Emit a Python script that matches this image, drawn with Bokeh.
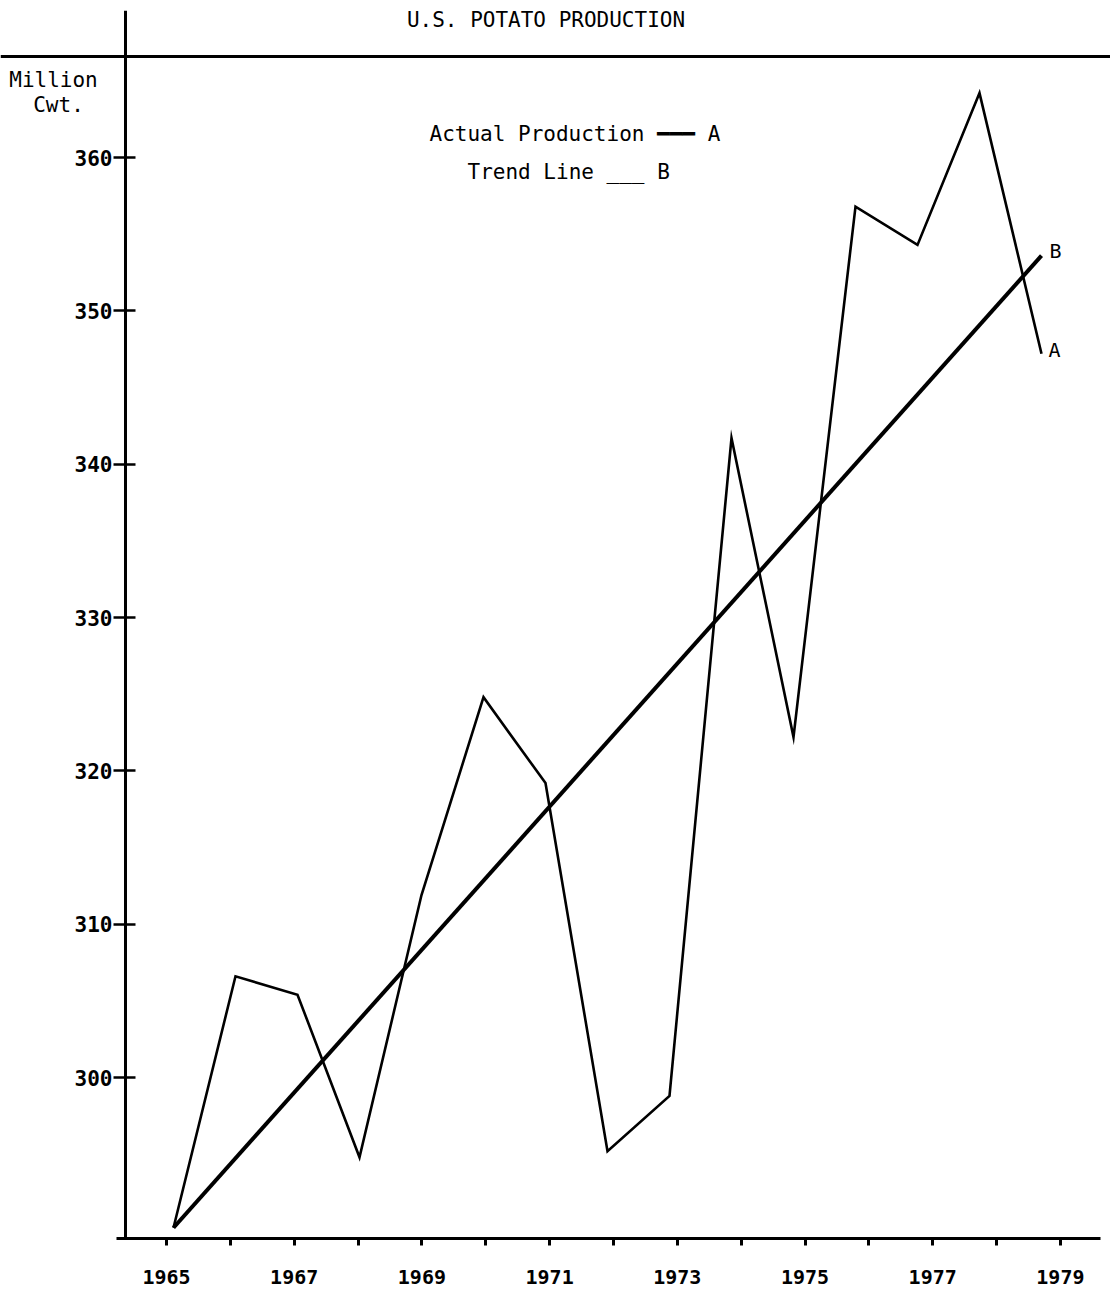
from bokeh.plotting import figure
from bokeh.models import LinearAxis, Range1d, FixedTicker, Span
from bokeh.core.properties import value
from bokeh.embed import file_html
from bokeh.resources import INLINE

# ---- data ----
years = [1965, 1966, 1967, 1968, 1969, 1970, 1971, 1972, 1973, 1974,
         1975, 1976, 1977, 1978, 1979]
actual = [290.2, 306.6, 305.4, 294.8, 311.9, 324.8, 319.2, 295.2, 298.8,
          341.7, 322.2, 356.8, 354.3, 364.2, 347.2]
trend_years = [1965, 1979]
trend = [290.2, 353.6]
y_ticks = [300, 310, 320, 330, 340, 350, 360]
x_label_years = [1965, 1967, 1969, 1971, 1973, 1975, 1977, 1979]
x_minor_years = [1966, 1968, 1970, 1972, 1974, 1976, 1978]

title_text = "U.S. POTATO PRODUCTION"
unit_lines = ["Million", "Cwt."]
legend_a = "Actual Production \u2501\u2501\u2501 A"
legend_b = "Trend Line ___ B"

FONT_NAME = "DejaVu Sans Mono"
FONT = value(FONT_NAME)

W, H = 1110, 1292
FRAME_TOP, FRAME_BOTTOM = 10, 1238

# page-pixel -> data helpers (layout only)
PX_PER_YEAR = 62.0
PX_PER_UNIT = 920.0 / 60.0


def X(sx):
    return 1965 + (sx - 173) / PX_PER_YEAR


def Y(sy):
    return 300 + (1077 - sy) / PX_PER_UNIT


AX_PX = 63.85
AX_X0 = 166


def XA(sx):
    return 1965 + (sx - AX_X0) / AX_PX


p = figure(width=W, height=H,
           x_range=Range1d(X(0), X(W)),
           y_range=Range1d(Y(FRAME_BOTTOM), Y(FRAME_TOP)),
           x_axis_type=None, y_axis_type=None,
           toolbar_location=None, output_backend="svg",
           min_border_left=0, min_border_right=0,
           min_border_top=FRAME_TOP, min_border_bottom=H - FRAME_BOTTOM)
p.outline_line_color = None
p.background_fill_color = "white"
p.border_fill_color = "white"

p.extra_x_ranges = {"ax": Range1d(XA(0), XA(W))}

xaxis = LinearAxis(x_range_name="ax",
                   ticker=FixedTicker(ticks=x_label_years, minor_ticks=x_minor_years),
                   bounds=(XA(116), XA(1100)),
                   axis_line_width=3, axis_line_color="black",
                   major_tick_in=0, major_tick_out=7, major_tick_line_width=3,
                   minor_tick_in=0, minor_tick_out=7, minor_tick_line_width=3,
                   major_label_text_font=FONT_NAME,
                   major_label_text_font_size="20px",
                   major_label_text_font_style="bold",
                   major_label_text_color="black",
                   major_label_standoff=24)
p.add_layout(xaxis, "below")

yaxis = LinearAxis(fixed_location=X(125),
                   ticker=FixedTicker(ticks=y_ticks),
                   axis_line_width=3, axis_line_color="black",
                   major_tick_in=10, major_tick_out=12, major_tick_line_width=2.5,
                   minor_tick_in=0, minor_tick_out=0,
                   major_label_text_font=FONT_NAME,
                   major_label_text_font_size="21px",
                   major_label_text_font_style="bold",
                   major_label_text_color="black",
                   major_label_standoff=1)
p.add_layout(yaxis, "left")

p.add_layout(Span(location=Y(56), dimension="width",
                  line_color="black", line_width=3))

p.line(years, actual, line_color="black", line_width=2.6, line_join="miter")
p.line(trend_years, trend, line_color="black", line_width=4, line_join="miter")

p.text(x=[X(545.5)], y=[Y(19)], text=[title_text], text_font=FONT,
       text_font_size="21px", text_align="center", text_baseline="middle",
       text_color="black")
p.text(x=[X(53), X(58)], y=[Y(79), Y(104)], text=unit_lines, text_font=FONT,
       text_font_size="21px", text_align="center", text_baseline="middle",
       text_color="black")
p.text(x=[X(429)], y=[Y(133)], text=[legend_a], text_font=FONT,
       text_font_size="21px", text_align="left", text_baseline="middle",
       text_color="black")
p.text(x=[X(467)], y=[Y(171)], text=[legend_b], text_font=FONT,
       text_font_size="21px", text_align="left", text_baseline="middle",
       text_color="black")
p.text(x=[X(1049), X(1048)], y=[Y(250), Y(349)], text=["B", "A"], text_font=FONT,
       text_font_size="20px", text_align="left", text_baseline="middle",
       text_color="black")

open("out.html", "w").write(file_html(p, INLINE))
